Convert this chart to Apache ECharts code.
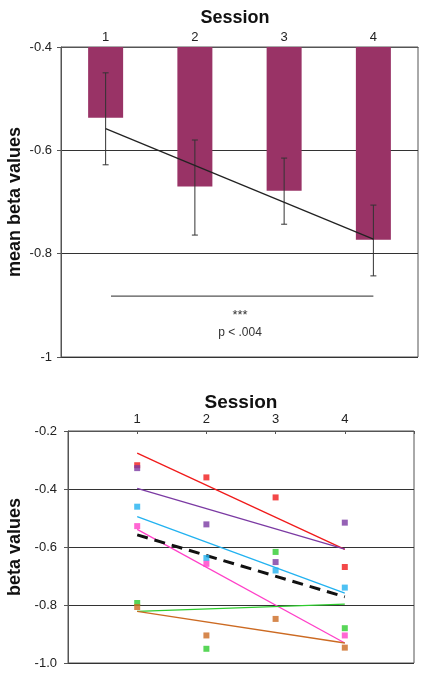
<!DOCTYPE html>
<html>
<head>
<meta charset="utf-8">
<script src="https://cdn.jsdelivr.net/npm/echarts@6/dist/echarts.min.js"></script>
<style>
html,body{margin:0;padding:0;background:#fff;}
#c{width:426px;height:676px;}
</style>
</head>
<body>
<div id="c"></div>
<script>
// ---- Top chart data ----
var sessions = ['1', '2', '3', '4'];
var meanBeta = [-0.537, -0.670, -0.678, -0.773];
var errHigh = [-0.450, -0.580, -0.615, -0.706];
var errLow = [-0.628, -0.764, -0.743, -0.843];
var meanTrend = [-0.558, null, null, -0.772];
var sigLineX = [1.06, 4];
var sigLineY = -0.882;
var sigStars = '***';
var sigText = 'p < .004';
var topTicks = [-1, -0.8, -0.6, -0.4];

// ---- Bottom chart data ----
var sessionX = [1, 2, 3, 4];
var redVals = [-0.318, -0.360, -0.429, -0.669];
var purpleVals = [-0.328, -0.522, -0.652, -0.516];
var cyanVals = [-0.461, -0.638, -0.681, -0.740];
var magentaVals = [-0.528, -0.658, null, -0.905];
var greenVals = [-0.793, -0.951, -0.617, -0.880];
var orangeVals = [-0.807, -0.905, -0.848, -0.947];
// fitted line end values (session 1, session 4)
var redFit = [-0.276, -0.608];
var purpleFit = [-0.398, -0.607];
var cyanFit = [-0.495, -0.759];
var magentaFit = [-0.539, -0.931];
var greenFit = [-0.822, -0.797];
var orangeFit = [-0.822, -0.931];
var meanFit = [-0.558, -0.772];
var bottomTicks = [-1.0, -0.8, -0.6, -0.4, -0.2];

var subjects = [
  {vals: redVals, fit: redFit, color: '#f01a1a'},
  {vals: purpleVals, fit: purpleFit, color: '#7b3aa3'},
  {vals: cyanVals, fit: cyanFit, color: '#22b2f0'},
  {vals: magentaVals, fit: magentaFit, color: '#ff40c8'},
  {vals: greenVals, fit: greenFit, color: '#2ecc2e'},
  {vals: orangeVals, fit: orangeFit, color: '#cc6a22'}
];

var FONT = 'Liberation Sans, Arial, sans-serif';
var chart = echarts.init(document.getElementById('c'), null, {renderer: 'canvas'});

var series = [];
// Top: bars
series.push({
  type: 'bar', xAxisIndex: 0, yAxisIndex: 0, data: meanBeta,
  barWidth: 35, clip: true,
  itemStyle: {color: '#993366'}, z: 2
});
// Top: error bars
series.push({
  type: 'custom', xAxisIndex: 0, yAxisIndex: 0,
  data: sessions.map(function (s, i) { return [i, errHigh[i], errLow[i]]; }),
  renderItem: function (params, api) {
    var hi = api.coord([api.value(0), api.value(1)]);
    var lo = api.coord([api.value(0), api.value(2)]);
    var w = 3;
    var st = {stroke: '#333', lineWidth: 1};
    return {type: 'group', children: [
      {type: 'line', shape: {x1: hi[0], y1: hi[1], x2: lo[0], y2: lo[1]}, style: st},
      {type: 'line', shape: {x1: hi[0] - w, y1: hi[1], x2: hi[0] + w, y2: hi[1]}, style: st},
      {type: 'line', shape: {x1: lo[0] - w, y1: lo[1], x2: lo[0] + w, y2: lo[1]}, style: st}
    ]};
  },
  z: 4
});
// Top: mean trend line
series.push({
  type: 'line', xAxisIndex: 0, yAxisIndex: 0, data: meanTrend, connectNulls: true,
  symbol: 'none', lineStyle: {color: '#222', width: 1.3}, z: 5
});
// Top: significance line
series.push({
  type: 'line', xAxisIndex: 1, yAxisIndex: 0,
  data: sigLineX.map(function (x) { return [x, sigLineY]; }),
  symbol: 'none', lineStyle: {color: '#555', width: 1.2}, z: 5
});

// Bottom: fitted lines
subjects.forEach(function (s) {
  series.push({
    type: 'line', xAxisIndex: 2, yAxisIndex: 1,
    data: [[sessionX[0], s.fit[0]], [sessionX[3], s.fit[1]]],
    symbol: 'none', lineStyle: {color: s.color, width: 1.3}, z: 3
  });
});
series.push({
  type: 'line', xAxisIndex: 2, yAxisIndex: 1,
  data: [[sessionX[0], meanFit[0]], [sessionX[3], meanFit[1]]],
  symbol: 'none', lineStyle: {color: '#111', width: 3, type: [11, 7]}, z: 4
});
// Bottom: points
subjects.forEach(function (s) {
  series.push({
    type: 'scatter', xAxisIndex: 2, yAxisIndex: 1,
    data: sessionX.map(function (x, i) { return s.vals[i] == null ? null : [x, s.vals[i]]; }).filter(Boolean),
    symbol: 'rect', symbolSize: 6,
    itemStyle: {color: s.color}, z: 6
  });
});

var axisLabelStyle = {color: '#222', fontSize: 13, fontFamily: FONT};

chart.setOption({
  animation: false,
  backgroundColor: '#fff',
  title: [
    {text: 'Session', left: 230, top: 4, textAlign: 'center',
     textStyle: {fontSize: 18, fontWeight: 'bold', fontFamily: FONT, color: '#111'}},
    {text: 'Session', left: 236, top: 388, textAlign: 'center',
     textStyle: {fontSize: 19, fontWeight: 'bold', fontFamily: FONT, color: '#111'}}
  ],
  grid: [
    {left: 61, top: 47, width: 357, height: 310, show: true, borderColor: '#555', borderWidth: 1,
     outerBoundsMode: 'none', containLabel: false},
    {left: 68, top: 431, width: 346, height: 232, show: true, borderColor: '#555', borderWidth: 1,
     outerBoundsMode: 'none', containLabel: false}
  ],
  xAxis: [
    {type: 'category', gridIndex: 0, data: sessions, position: 'top',
     axisLine: {lineStyle: {color: '#555'}},
     axisTick: {inside: true, length: 3, lineStyle: {color: '#555'}},
     axisLabel: Object.assign({margin: 3}, axisLabelStyle),
     splitLine: {show: false}},
    {type: 'value', gridIndex: 0, min: 0.5, max: 4.5, show: false},
    {type: 'value', gridIndex: 1, min: 0, max: 5, interval: 1, position: 'top',
     axisLine: {lineStyle: {color: '#555'}},
     axisTick: {inside: true, length: 3, lineStyle: {color: '#555'}},
     axisLabel: Object.assign({margin: 5, formatter: function (v) {
       return sessionX.indexOf(v) >= 0 ? String(v) : '';
     }}, axisLabelStyle),
     splitLine: {show: false}}
  ],
  yAxis: [
    {type: 'value', gridIndex: 0, min: topTicks[0], max: topTicks[topTicks.length - 1], interval: 0.2,
     name: 'mean beta values', nameLocation: 'middle', nameRotate: 90, nameGap: 37, nameMoveOverlap: false,
     nameTextStyle: {fontSize: 18, fontWeight: 'bold', fontFamily: FONT, color: '#111'},
     axisLine: {show: true, lineStyle: {color: '#555'}},
     axisTick: {show: true, length: 4, lineStyle: {color: '#555'}},
     axisLabel: Object.assign({margin: 9, formatter: function (v) {
       return Math.abs(v + 1) < 1e-9 ? '-1' : v.toFixed(1);
     }}, axisLabelStyle),
     splitLine: {show: true, lineStyle: {color: '#333', width: 1}}},
    {type: 'value', gridIndex: 1, min: bottomTicks[0], max: bottomTicks[bottomTicks.length - 1], interval: 0.2,
     name: 'beta values', nameLocation: 'middle', nameRotate: 90, nameGap: 44, nameMoveOverlap: false,
     nameTextStyle: {fontSize: 18, fontWeight: 'bold', fontFamily: FONT, color: '#111'},
     axisLine: {show: true, lineStyle: {color: '#555'}},
     axisTick: {show: true, length: 4, lineStyle: {color: '#555'}},
     axisLabel: Object.assign({margin: 11, formatter: function (v) { return v.toFixed(1); }}, axisLabelStyle),
     splitLine: {show: true, lineStyle: {color: '#333', width: 1}}}
  ],
  graphic: [
    {type: 'text', style: {text: sigStars, x: 240, y: 315, textAlign: 'center', textVerticalAlign: 'middle',
      fontSize: 13, fontFamily: FONT, fill: '#333'}},
    {type: 'text', style: {text: sigText, x: 240, y: 333, textAlign: 'center', textVerticalAlign: 'middle',
      fontSize: 12, fontFamily: FONT, fill: '#333'}}
  ],
  series: series
});
</script>
</body>
</html>
